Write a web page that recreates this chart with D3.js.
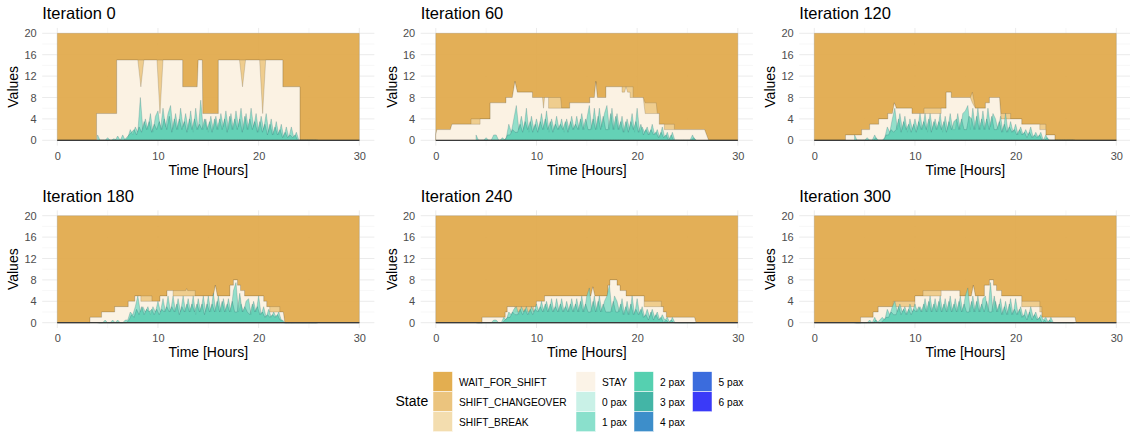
<!DOCTYPE html>
<html>
<head>
<meta charset="utf-8">
<script src="https://cdn.jsdelivr.net/npm/d3@7"></script>
<style>
    body { margin: 0; background: #fff; }
    svg text { font-family: "Liberation Sans", Arial, sans-serif; }
</style>
</head>
<body>
<svg id="chart" width="1130" height="434"></svg>
<script>
var iterations = [0, 60, 120, 180, 240, 300];
var xTicks = [0, 10, 20, 30];
var xMinor = [5, 15, 25];
var yTicks = [0, 4, 8, 12, 16, 20];
var yMinor = [2, 6, 10, 14, 18];

var states = ["WAIT_FOR_SHIFT", "SHIFT_CHANGEOVER", "SHIFT_BREAK", "STAY",
    "0 pax", "1 pax", "2 pax", "3 pax", "4 pax", "5 pax", "6 pax"];
var stateColors = ["#E3AE50", "#EBC47E", "#F3DDAF", "#FBF3E7",
    "#C9F1E7", "#8AE0CC", "#55D0B0", "#43B5A6", "#3D8ECA", "#3B6CDD", "#3A3AF8"];

// whole horizon is waiting for shift
var waitTop = [[0, 20], [30, 20]];

// top of shift (changeover / break) area, [hour, vehicles]
var shift0 = [[0,0],[3.9,0],[3.9,5],[5.9,5],[5.9,15],[12.45,15],[12.45,10],[13.9,10],[14.0,15],[14.4,15],[14.45,5],[16.0,5],[16.0,15],[22.4,15],[22.4,10],[24.1,10],[24.1,0],[30,0]];
var shift60 = [[0,1],[0.1,2],[1.45,2],[1.6,3],[3.5,3],[3.5,4],[5.4,4],[5.4,7],[6.97,7],[6.97,8],[7.6,8],[7.86,11],[8.1,9],[9.6,9],[9.6,8],[12.4,8],[12.5,6],[13.3,6],[13.3,7],[15.3,7],[15.3,8],[15.75,8],[15.9,11],[16.05,8],[16.9,8],[16.9,10],[19.6,10],[19.6,8],[20.6,8],[20.8,7],[21.9,7],[22.0,5],[22.2,5],[22.2,3],[23.7,3],[23.7,2],[26.7,2],[27.1,0],[30,0]];
var shift120 = [[0,0],[3.1,0],[3.1,1],[4.7,1],[4.7,2],[5.5,2],[5.5,3],[6.4,3],[6.4,4],[7.3,4],[7.3,5],[7.75,5],[7.95,7],[8.15,6],[9.7,6],[9.7,5],[10.9,5],[10.9,6],[13.1,6],[13.1,9],[13.6,9],[13.6,8],[15.5,8],[15.7,9],[15.9,7],[16.0,6],[17.0,6],[17.0,7],[17.4,7],[17.4,8],[18.4,8],[18.55,5],[19.5,5],[19.5,4],[20.6,4],[20.6,3],[23.0,3],[23.0,1],[23.9,1],[23.9,0],[30,0]];
var shift180 = [[0,0],[3.25,0],[3.25,1],[4.4,1],[4.4,2],[5.7,2],[5.7,3],[7.05,3],[7.05,4],[7.7,4],[7.7,5],[9.4,5],[9.4,4],[10.2,4],[10.2,5],[10.9,5],[10.9,6],[12.75,6],[12.85,6.4],[12.95,6],[13.7,6],[13.7,5],[15.5,5],[15.7,7],[15.9,5],[17.15,5],[17.15,7],[17.5,7],[17.5,8],[17.9,8],[17.9,7],[18.2,7],[18.2,6],[18.6,6],[18.6,5],[20.5,5],[20.5,4],[20.8,4],[20.8,3],[22.1,3],[22.1,2],[22.45,2],[22.6,0],[30,0]];
var shift240 = [[0,0],[4.6,0],[4.6,1],[6.9,1],[6.9,2],[7.1,2],[7.1,3],[10.0,3],[10.0,4],[10.8,4],[10.8,5],[15.4,5],[15.6,6.7],[15.8,5],[17.1,5],[17.1,7],[17.3,7],[17.3,8],[18.0,8],[18.0,7],[18.3,7],[18.3,6],[18.9,6],[18.9,5],[20.7,5],[20.7,4],[22.4,4],[22.4,3],[22.6,3],[22.6,2],[22.9,2],[22.9,1],[25.7,1],[25.85,0],[30,0]];
var shift300 = [[0,0],[4.6,0],[4.6,1],[5.85,1],[5.85,2],[6.35,2],[6.35,3],[7.85,3],[7.85,4],[10.0,4],[10.0,5],[10.8,5],[10.8,6],[14.45,6],[14.45,5],[15.6,5],[15.8,7],[16.0,5],[16.9,5],[16.9,7],[17.4,7],[17.4,8],[17.8,8],[17.8,7],[18.1,7],[18.1,6],[18.6,6],[18.6,5],[20.6,5],[20.6,4],[22.4,4],[22.4,3],[22.6,3],[22.6,1],[25.9,1],[26.0,0],[30,0]];

// top of STAY area
var stay0 = [[0,0],[3.9,0],[3.9,5],[5.9,5],[5.9,15],[8.0,15],[8.3,10],[8.6,15],[9.9,15],[10.2,5],[10.5,15],[12.45,15],[12.45,10],[13.9,10],[14.0,15],[14.4,15],[14.45,5],[16.0,5],[16.0,15],[18.1,15],[18.4,10],[18.7,15],[20.1,15],[20.4,5],[20.7,15],[22.4,15],[22.4,10],[24.1,10],[24.1,0],[30,0]];
var stay60 = [[0,1],[0.1,2],[1.45,2],[1.6,3],[4.4,3],[4.4,4],[5.4,4],[5.4,7],[6.97,7],[6.97,8],[7.6,8],[7.86,11],[8.1,9],[9.6,9],[9.6,8],[10.6,8],[10.7,6],[10.8,8],[11.2,8],[11.2,6],[13.3,6],[13.3,7],[15.3,7],[15.3,8],[15.75,8],[15.9,11],[16.05,8],[16.9,8],[16.9,10],[18.5,10],[18.5,9],[18.75,9],[18.9,10],[19.05,9],[19.3,9],[19.3,8],[20.6,8],[20.8,5],[22.2,5],[22.2,3],[22.7,3],[22.7,2],[26.7,2],[27.1,0],[30,0]];
var stay120 = [[0,0],[3.1,0],[3.1,1],[4.7,1],[4.7,2],[5.5,2],[5.5,3],[6.4,3],[6.4,4],[7.3,4],[7.3,5],[7.75,5],[7.95,7],[8.15,6],[9.7,6],[9.7,5],[12.6,5],[12.6,6],[13.1,6],[13.1,9],[13.6,9],[13.6,8],[15.5,8],[15.7,7],[16.0,6],[17.0,6],[17.0,7],[17.4,7],[17.4,8],[18.4,8],[18.55,4],[20.6,4],[20.6,3],[22.4,3],[22.4,2],[23.0,2],[23.0,1],[23.9,1],[23.9,0],[30,0]];
var stay180 = [[0,0],[3.25,0],[3.25,1],[4.4,1],[4.4,2],[5.7,2],[5.7,3],[7.05,3],[7.05,4],[7.7,4],[7.7,5],[8.3,5],[8.3,4],[10.2,4],[10.2,5],[10.9,5],[10.9,6],[11.5,6],[11.5,5],[15.5,5],[15.7,7],[15.9,5],[17.15,5],[17.15,7],[17.5,7],[17.5,8],[17.9,8],[17.9,7],[18.2,7],[18.2,6],[18.6,6],[18.6,5],[20.5,5],[20.5,4],[20.8,4],[20.8,3],[21.1,3],[21.1,2],[22.45,2],[22.6,0],[30,0]];
var stay240 = [[0,0],[4.6,0],[4.6,1],[6.9,1],[6.9,2],[7.1,2],[7.1,3],[7.85,3],[7.85,2],[9.7,2],[9.7,3],[10.0,3],[10.0,4],[10.8,4],[10.8,5],[15.4,5],[15.6,6.7],[15.8,5],[17.1,5],[17.1,7],[17.3,7],[17.3,8],[18.0,8],[18.0,7],[18.3,7],[18.3,6],[18.9,6],[18.9,5],[20.7,5],[20.7,3],[22.6,3],[22.6,2],[22.9,2],[22.9,1],[25.7,1],[25.85,0],[30,0]];
var stay300 = [[0,0],[4.6,0],[4.6,1],[5.85,1],[5.85,2],[6.35,2],[6.35,3],[10.0,3],[10.0,5],[12.6,5],[12.6,6],[14.45,6],[14.45,5],[15.6,5],[15.8,7],[16.0,5],[16.9,5],[16.9,7],[17.4,7],[17.4,8],[17.8,8],[17.8,7],[18.1,7],[18.1,6],[18.6,6],[18.6,5],[20.6,5],[20.6,3],[22.4,3],[22.4,2],[22.6,2],[22.6,1],[25.9,1],[26.0,0],[30,0]];

// passengers on board, sampled every paxStep hours from paxStart (4 values per hour, 4h..25.75h)
var paxStart = 4, paxStep = 0.25, pax2Offset = 0.125;

var pax1_0 = [1,0,0,0, 0.5,0,0,0, 0.8,0,1,0, 0.5,2,1,2.5, 1.5,8,2,4, 2,5,1.5,4.5, 5.5,2,6,2.5, 5,6.5,2,5, 2,6,2.5,5, 2,5.5,1.5,6, 2,7.5,2,4, 1.5,4.5,2,4.5, 2,5,2.5,5.5, 2,5,2,5.5, 2.5,6,2,5, 2,6,2.5,5, 1.5,4.5,2,5, 1.5,4,1,3.5, 1,3,0.5,2.5, 0.5,2.5,0.5,1.5, 0,0,0,0, 0,0,0,0];
var pax2_0 = [0,0,0,0, 0,0,0.3,0, 0,0,0,0.5, 1,1.5,2,1, 2.5,1.5,3.5,2, 3.5,1.5,3,2, 3.5,2,4,2, 4.5,1.5,4,2, 4,2,3.5,1.5, 4,2,4,2, 3,2,4,2, 3.5,1.5,4,2, 4,2,4,1.5, 4.5,2,4,2, 4,1.5,4.5,2, 4,2,3.5,1.5, 3.5,1.5,3,1, 3,1,2.5,1, 2,0.5,1.5,0.5, 1,0.5,1,0, 0,0,0,0, 0,0,0,0];

var pax1_60 = [1,0,0,0, 0.5,0,0,1, 1,0,0,0, 0.5,3,1.5,4, 6.5,2,4.5,2, 6,1.5,4.5,2, 4,2,5,2, 5.5,1.5,4,2, 4.5,2,4,1.5, 4,2,4.5,2, 4.5,2,5,2, 4,6.5,2,6, 2,6,2.5,5, 6.5,2,6,2, 5,2,4.5,1.5, 4,2,5,1.5, 6,1.5,2.5,1.5, 2.5,1,3,1, 2,0.5,2.5,0.5, 1.5,0,1.5,0, 0,0,0,0, 0,0,1,0];
var pax2_60 = [0,0,0,0, 0,0,0,0, 0,0,0.5,0, 1,1,2,1.5, 1.5,3,1.5,3.5, 2,3.5,1.5,3, 1.5,3.5,2,4, 2,3.5,1.5,3, 2,3,2,3.5, 1.5,3.5,2,3, 2,4,2,4, 2,2,4,2, 4.5,2,4.5,2, 2,5,2,4.5, 2,3.5,1.5,3.5, 1.5,3.5,2,3.5, 1.5,3,1,2, 1,2,1,1.5, 0.5,1.5,0.5,1, 0,1,0,0, 0,0,0,0, 0,0,0.5,0];

var pax1_120 = [1,0,0,0, 0,0.5,0,0, 1,0,0,0, 0.5,2.5,1.5,4, 6,2,5,2, 4.5,1.5,4,2, 4,2,5,2, 5,1.5,5,2, 4,2,5,1.5, 4.5,2,5,2, 2,5,2,5, 5.5,6.5,2,6, 2,6,2,5.5, 2,6,2.5,5, 4,2,4.5,1.5, 5,1.5,3.5,1.5, 3,1,2.5,1, 2,1,2.5,0.5, 1.5,0.5,1.5,0, 1,0,0,0, 0,0,0,0, 0,0,0,0];
var pax2_120 = [0,0,0,0, 0,0,0,0, 0.5,0,0,0, 1,1,2,1.5, 2,4,1.5,3.5, 2,3,1.5,3, 1.5,3.5,2,3.5, 2,4,1.5,3.5, 2,3.5,2,3.5, 1.5,3.5,2,3.5, 4,2,4,2, 2,4.5,4,2, 4.5,2,4,2, 4,2,4.5,2, 2,3.5,1.5,3, 1.5,2.5,1.5,2, 1,2,1,1.5, 0.5,1.5,0.5,1, 0.5,1,0,0, 0.5,0,0,0, 0,0,0,0, 0,0,0,0];

var pax1_180 = [0,0,0,0.5, 0,0,0.5,0, 0.5,0,0,0.5, 0.5,2,1.5,3, 5,2,3,2, 3,1.5,3,2, 4,2,4.5,2, 5,2,5,2, 4.5,2,5,2, 4.5,2,5,1.5, 4.5,2,5,2, 5,2,5.5,2, 5,2,4.5,2, 4.5,2,6,7.5, 2,3.5,2,4, 4.5,1.5,4,2, 5,1.5,3,1, 2.5,1,2,1, 2,0.5,0,0, 0,0,0,0, 0,0,0,0, 0,0,0,0];
var pax2_180 = [0,0,0,0, 0,0,0,0, 0,0,0,0, 0.5,1.5,1,2.5, 1.5,3,1.5,2.5, 2,2.5,1.5,2.5, 1.5,2.5,2,3, 2,3,2,3.5, 1.5,3,2,3.5, 2,3.5,2,3.5, 2,3.5,1.5,3.5, 2,3.5,2,4, 2,4,2,3.5, 2,4,2,2, 5.5,2,3,2, 1.5,3.5,2,3, 1.5,2,1,1.5, 1,1.5,1,1.5, 0.5,0.5,0,0, 0,0,0,0, 0,0,0,0, 0,0,0,0];

var pax1_240 = [0,0,0,0, 0,0,0,0.5, 0.5,0,0,1, 0.5,2,1.5,2.5, 3,1.5,3,2, 3,1.5,3,2, 3.5,2,4,2, 4,2,4.5,2, 4.5,2,4.5,2, 4,2,4.5,2, 4.5,2,5,2, 5,6.5,2,5, 2,5,2,4, 5,7,2,5, 4,2,4.5,1.5, 4,1.5,5,1.5, 4.5,1.5,3,1, 2.5,1,2.5,1, 2,0.5,1.5,0.5, 1,0,1,0, 0,0,0,0, 0,0,0,0];
var pax2_240 = [0,0,0,0, 0,0,0,0, 0,0,0,0.5, 1,1,2,1.5, 1.5,2.5,1.5,2.5, 1.5,2.5,1.5,2.5, 2,3,2,3.5, 2,3.5,2,3, 2,3.5,2,3, 2,3.5,2,3.5, 2,4,2,3.5, 2,2,4,2, 4,2,3.5,2, 2,2,4,2, 2,3.5,1.5,3, 1.5,3.5,1.5,2.5, 1.5,2.5,1,1.5, 0.5,2,0.5,1.5, 0.5,1,0,0.5, 0,0.5,0,0, 0,0,0,0, 0,0,0,0];

var pax1_300 = [0,0,0,0, 0,0,0.5,0, 1,0,0.5,1, 0.5,2.5,1.5,3, 4,2,3.5,2, 3,1.5,3.5,2, 3.5,2,3,2, 4.5,2,5,2, 4.5,2,5,2, 4.5,2,5,2, 4.5,2,5,2, 5,6.5,2,5, 2,5,2,4.5, 5,2,7.5,2, 4,2,4.5,1.5, 4,1.5,4.5,1.5, 4.5,1.5,3,1, 2.5,1,3,1, 2,0.5,1.5,0.5, 1,0,1,0, 0,0,0,0, 0,0,0,0];
var pax2_300 = [0,0,0,0, 0,0,0,0, 0.5,0,0,0.5, 1,1,2,1.5, 1.5,3,1.5,2.5, 1.5,2.5,1.5,2.5, 2,3,2,3.5, 2,4,2,3.5, 2,4,2,3.5, 2,4,2,3.5, 2,4,2,3.5, 2,2,4,2, 4,2,3.5,2, 4,2,2,5, 2,3.5,1.5,3, 1.5,3.5,1.5,2.5, 1.5,2.5,1,1.5, 0.5,2,0.5,1.5, 0.5,1,0,0.5, 0,0.5,0,0, 0,0,0,0, 0,0,0,0];

var panels = [
    {it: iterations[0], shift: shift0, stay: stay0, p1: pax1_0, p2: pax2_0},
    {it: iterations[1], shift: shift60, stay: stay60, p1: pax1_60, p2: pax2_60},
    {it: iterations[2], shift: shift120, stay: stay120, p1: pax1_120, p2: pax2_120},
    {it: iterations[3], shift: shift180, stay: stay180, p1: pax1_180, p2: pax2_180},
    {it: iterations[4], shift: shift240, stay: stay240, p1: pax1_240, p2: pax2_240},
    {it: iterations[5], shift: shift300, stay: stay300, p1: pax1_300, p2: pax2_300}
];

var colX = [57.3, 435.8, 814.3],
    rowY = [140.3, 322.7],
    plotW = 302,
    plotH = 107;

var svg = d3.select("#chart");

panels.forEach(function(p, i) {
    var c = i % 3, r = Math.floor(i / 3);
    var x = d3.scaleLinear().domain([0, 30]).range([colX[c], colX[c] + plotW]);
    var y = d3.scaleLinear().domain([0, 20]).range([rowY[r], rowY[r] - plotH]);
    var g = svg.append("g");

    var left = x(-1.5), right = x(31.5), top = y(21), bottom = y(-1);

    // grid
    g.selectAll(".vminor").data(xMinor).enter().append("line")
        .attr("x1", function(d) { return x(d); }).attr("x2", function(d) { return x(d); })
        .attr("y1", top).attr("y2", bottom)
        .attr("stroke", "#F2F2F2").attr("stroke-width", 0.6);
    g.selectAll(".hminor").data(yMinor).enter().append("line")
        .attr("y1", function(d) { return y(d); }).attr("y2", function(d) { return y(d); })
        .attr("x1", left).attr("x2", right)
        .attr("stroke", "#F2F2F2").attr("stroke-width", 0.6);
    g.selectAll(".vmajor").data(xTicks).enter().append("line")
        .attr("x1", function(d) { return x(d); }).attr("x2", function(d) { return x(d); })
        .attr("y1", top).attr("y2", bottom)
        .attr("stroke", "#EBEBEB").attr("stroke-width", 1);
    g.selectAll(".hmajor").data(yTicks).enter().append("line")
        .attr("y1", function(d) { return y(d); }).attr("y2", function(d) { return y(d); })
        .attr("x1", left).attr("x2", right)
        .attr("stroke", "#EBEBEB").attr("stroke-width", 1);

    var area = d3.area()
        .x(function(d) { return x(d[0]); })
        .y0(y(0))
        .y1(function(d) { return y(d[1]); });

    g.append("path").datum(waitTop).attr("d", area)
        .attr("fill", "#E1A94A").attr("fill-opacity", 0.93)
        .attr("stroke", "rgba(90,80,60,0.25)").attr("stroke-width", 0.6);

    g.append("path").datum(p.shift).attr("d", area)
        .attr("fill", "#EFCD8E")
        .attr("stroke", "rgba(90,80,60,0.35)").attr("stroke-width", 0.6);

    g.append("path").datum(p.stay).attr("d", area)
        .attr("fill", "#FBF2E3")
        .attr("stroke", "rgba(90,80,60,0.35)").attr("stroke-width", 0.6);

    var d1 = p.p1.map(function(v, k) { return [paxStart + k * paxStep, v]; });
    var d2 = p.p2.map(function(v, k) { return [paxStart + pax2Offset + k * paxStep, v]; });

    g.append("path").datum(d1).attr("d", area)
        .attr("fill", "#80DCC6").attr("fill-opacity", 0.85)
        .attr("stroke", "rgba(50,110,115,0.5)").attr("stroke-width", 0.5);
    g.append("path").datum(d2).attr("d", area)
        .attr("fill", "#4CC9AB").attr("fill-opacity", 0.65)
        .attr("stroke", "rgba(40,100,105,0.5)").attr("stroke-width", 0.5);

    // base line
    g.append("line")
        .attr("x1", x(0)).attr("x2", x(30))
        .attr("y1", y(0)).attr("y2", y(0))
        .attr("stroke", "#3a3a3a").attr("stroke-width", 1.2);

    // axes
    var yAxis = d3.axisLeft(y).tickValues(yTicks).tickSize(0).tickPadding(5.5);
    var ya = g.append("g").attr("transform", "translate(" + left + ",0)").call(yAxis);
    ya.select(".domain").remove();
    ya.selectAll("text").attr("fill", "#4D4D4D").style("font-size", "11px");

    var xAxis = d3.axisBottom(x).tickValues(xTicks).tickSize(0).tickPadding(6.5);
    var xa = g.append("g").attr("transform", "translate(0," + bottom + ")").call(xAxis);
    xa.select(".domain").remove();
    xa.selectAll("text").attr("fill", "#4D4D4D").style("font-size", "11px");

    // titles
    g.append("text")
        .attr("x", left).attr("y", rowY[r] - 121)
        .style("font-size", "16.5px").attr("fill", "#000")
        .text("Iteration " + p.it);

    g.append("text")
        .attr("x", x(15)).attr("y", rowY[r] + 34.7)
        .attr("text-anchor", "middle")
        .style("font-size", "14px").attr("fill", "#000")
        .text("Time [Hours]");

    g.append("text")
        .attr("transform", "translate(" + (left - 24) + "," + ((top + bottom) / 2) + ") rotate(-90)")
        .attr("text-anchor", "middle")
        .style("font-size", "14px").attr("fill", "#000")
        .text("Values");
});

// legend
var legend = svg.append("g");
legend.append("text")
    .attr("x", 395.5).attr("y", 406)
    .style("font-size", "14px").attr("fill", "#000")
    .text("State");

var keyX = [433, 576, 634, 692.5],
    keyY = 371.7, keyW = 19.5, keyH = 20;

states.forEach(function(s, k) {
    var col, row;
    if (k < 3) { col = 0; row = k; }
    else { col = 1 + Math.floor((k - 3) / 3); row = (k - 3) % 3; }
    var kx = keyX[col], ky = keyY + row * keyH;
    legend.append("rect")
        .attr("x", kx).attr("y", ky)
        .attr("width", keyW).attr("height", keyH)
        .attr("fill", stateColors[k])
        .attr("stroke", "#fff").attr("stroke-width", 0.5);
    legend.append("text")
        .attr("x", kx + keyW + 6.5).attr("y", ky + keyH / 2 + 3.8)
        .style("font-size", "10.2px").attr("fill", "#000")
        .text(s);
});
</script>
</body>
</html>
